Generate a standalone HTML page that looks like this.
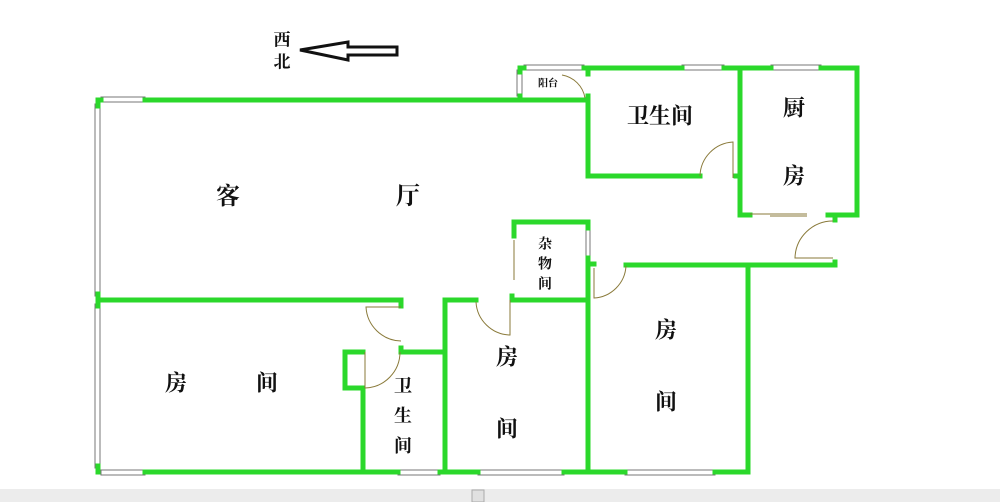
<!DOCTYPE html>
<html><head><meta charset="utf-8"><style>
html,body{margin:0;padding:0;background:#fff;}
svg{display:block}
text{font-family:"Liberation Serif","Noto Serif CJK SC","Noto Sans CJK SC",serif;fill:#111;text-anchor:middle;dominant-baseline:central;font-weight:bold}
</style></head><body>
<svg width="1000" height="502" viewBox="0 0 1000 502" xmlns="http://www.w3.org/2000/svg">
<rect width="1000" height="502" fill="#fff"/>
<!-- windows -->
<g fill="#fff" stroke="#777" stroke-width="1">
<rect x="95" y="104" width="5" height="192"/>
<rect x="95" y="304" width="5" height="164"/>
<rect x="101" y="97" width="44" height="5"/>
<rect x="517" y="70" width="5" height="26"/>
<rect x="524" y="65" width="60" height="5"/>
<rect x="682" y="65" width="42" height="5"/>
<rect x="771" y="65" width="50" height="5"/>
<rect x="101" y="470" width="44" height="5"/>
<rect x="398" y="470" width="42" height="5"/>
<rect x="478" y="470" width="86" height="5"/>
<rect x="625" y="470" width="90" height="5"/>
<rect x="586" y="228" width="4" height="30"/>
</g>
<!-- walls -->
<g fill="none" stroke="#2bd82b" stroke-width="5" stroke-linecap="square">
<path d="M145 100 H588 M98 100 V106 M98 294 V306 M98 466 V472 M98 100 H101"/>
<path d="M98 300 H401 V306"/>
<path d="M520 96 V100 M520 68 V72 M520 68 H524 M584 68 H588 V74 M588 96 V176 H700"/>
<path d="M588 68 H682 M724 68 H771 M821 68 H857 V215 H828 M740 68 V215 H750 M740 176 H736"/>
<path d="M835 215 V220 M835 262 V265 H626 M748 265 V472"/>
<path d="M514 236 V222 H588 V228 M588 258 V472 M590 264 H594"/>
<path d="M512 296 V300 H588 M445 472 V300 H476"/>
<path d="M401 348 V352 H445 M363 472 V388 H345 V352 H363"/>
<path d="M145 472 H398 M440 472 H478 M564 472 H625 M715 472 H748"/>
</g>
<!-- doors -->
<g fill="none" stroke="#8a7a3a" stroke-width="1">
<path d="M562 75 A28 28 0 0 1 585 98"/>
<path d="M700 176 A35 35 0 0 1 733 142 V178"/>
<path d="M750 214 H807 M770 216 H807"/>
<path d="M833 221 A38 38 0 0 0 795 258 H833"/>
<path d="M514 240 V280"/>
<path d="M594 268 V298 A34 34 0 0 0 626 266"/>
<path d="M476 302 A35 35 0 0 0 510 335 V300"/>
<path d="M401 307 H366 A36 36 0 0 0 401 341"/>
<path d="M365 352 V388 A36 36 0 0 0 400 352"/>
</g>
<!-- arrow -->
<path d="M300 50 L348 42 V47 H397 V55 H348 V60 Z" fill="#fff" stroke="#111" stroke-width="3" stroke-linejoin="miter"/>
<text x="282" y="40" font-size="17">西</text>
<text x="282" y="62" font-size="17">北</text>
<!-- labels -->
<text x="228" y="197" font-size="24">客</text>
<text x="408" y="197" font-size="24">厅</text>
<text x="548" y="84" font-size="10">阳台</text>
<text x="660" y="116" font-size="22">卫生间</text>
<text x="794" y="108" font-size="22">厨</text>
<text x="794" y="176" font-size="22">房</text>
<text x="545" y="245" font-size="14">杂</text>
<text x="545" y="265" font-size="14">物</text>
<text x="545" y="285" font-size="14">间</text>
<text x="176" y="383" font-size="22">房</text>
<text x="267" y="383" font-size="22">间</text>
<text x="403" y="386" font-size="18">卫</text>
<text x="403" y="416" font-size="18">生</text>
<text x="403" y="446" font-size="18">间</text>
<text x="507" y="357" font-size="22">房</text>
<text x="507" y="429" font-size="22">间</text>
<text x="666" y="330" font-size="22">房</text>
<text x="666" y="402" font-size="22">间</text>
<!-- scrollbar -->
<rect x="0" y="489" width="1000" height="13" fill="#ececec"/>
<rect x="472" y="490" width="12" height="12" fill="#e0e0e0" stroke="#aaa"/>
</svg>
</body></html>
